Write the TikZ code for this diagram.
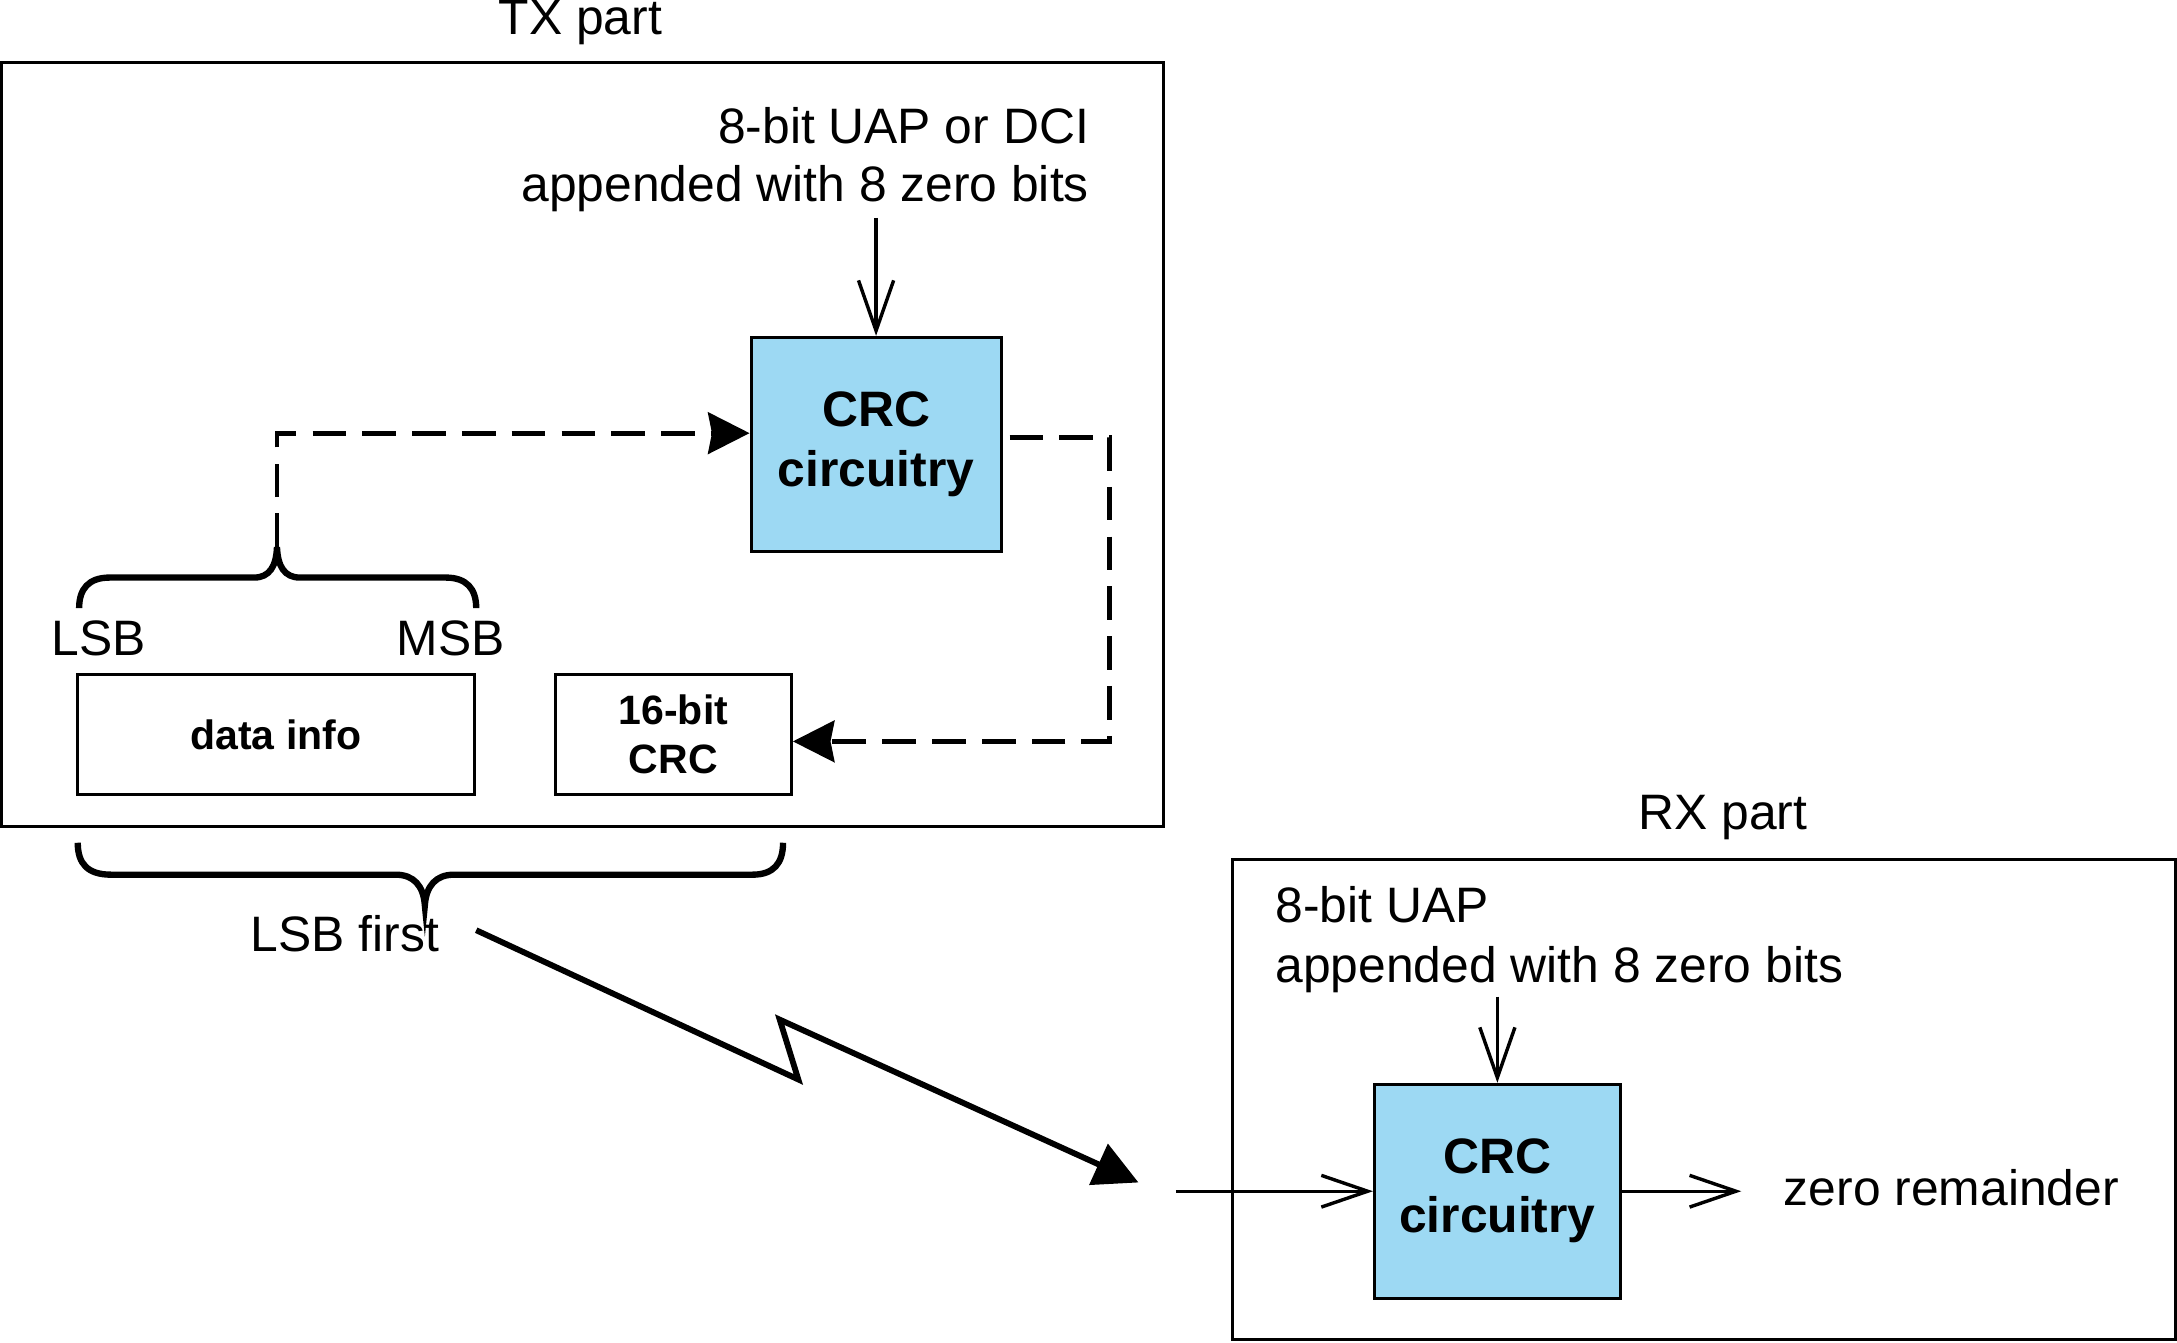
\documentclass[tikz,border=0pt]{standalone}
\usepackage{fontspec}
\setmainfont{Liberation Sans}
\usetikzlibrary{arrows.meta}
\definecolor{crcblue}{RGB}{157,217,243}
\begin{document}
\begin{tikzpicture}[x=0.01cm,y=-0.01cm,
  frame/.style={draw, line width=0.6pt, inner sep=0pt},
  crcbox/.style={draw, fill=crcblue, line width=0.6pt, inner sep=0pt, minimum width=1.8cm, minimum height=1.54cm, align=center, font=\fontsize{10.2}{12.1}\selectfont\bfseries},
  smallbox/.style={draw, line width=0.6pt, inner sep=0pt, minimum height=0.86cm, align=center, font=\fontsize{8.4}{10}\selectfont\bfseries},
  lbl/.style={inner sep=0pt, font=\fontsize{10.2}{12.2}\selectfont},
  thinarrow/.style={line width=0.7pt, -{Straight Barb[length=10.3pt,width=7.2pt]}},
  rxarrow/.style={line width=0.7pt, -{Straight Barb[length=9.5pt,width=6.5pt]}},
  dashline/.style={line width=1pt, dash pattern=on 6.9pt off 3.3pt, -{Stealth[length=8.5pt,width=8.5pt,inset=0.8pt]}},
  bracestyle/.style={line width=1.3pt},
  bolt/.style={line width=1.2pt, line join=miter, -{Triangle[length=9pt,width=9pt]}}
]
\useasboundingbox (0,0) rectangle (1568,967);

% ---------- TX part ----------
\node[frame, minimum width=8.37cm, minimum height=5.5cm] (tx) at (419.5,320) {};
\node[lbl, anchor=base] (txlabel) at (418,25) {TX part};
\node[lbl, anchor=base east] (txin1) at (785,103.5) {8-bit UAP or DCI};
\node[lbl, anchor=base east] (txin2) at (785,144.8) {appended with 8 zero bits};
\node[crcbox] (crctx) at (631,320) {CRC\\circuitry};
\node[lbl, anchor=base] (lsb) at (71,471.8) {LSB};
\node[lbl, anchor=base] (msb) at (324.5,471.8) {MSB};
\node[smallbox, minimum width=2.855cm] (data) at (198.7,529) {data info};
\node[smallbox, minimum width=1.7cm] (crc16) at (485,529) {16-bit\\CRC};

\draw[thinarrow, shorten <=0.04cm] (crctx.north |- txin2.south) -- (crctx.north);

% upper brace
\draw[bracestyle] (57,438) .. controls (57,424) and (64,416) .. (79,416) -- (183,416)
  .. controls (194,416) and (199,408) .. (199.5,394)
  .. controls (200,408) and (205,416) .. (216,416) -- (321,416)
  .. controls (336,416) and (343,424) .. (343,438);
\coordinate (btip) at (199.5,394);

\draw[dashline] (btip) |- ([yshift=0.08cm]crctx.west);
\draw[dashline] ([xshift=0.05cm,yshift=0.05cm]crctx.east) -- ++(72,0) |- ([yshift=-0.05cm]crc16.east);

% lower brace
\draw[bracestyle] (56,607) .. controls (56,622) and (63,630) .. (80,630) -- (285,630)
  .. controls (298,630) and (305,638) .. (306,652)
  .. controls (307,638) and (314,630) .. (327,630) -- (542,630)
  .. controls (557,630) and (564,622) .. (564,607);
\node[lbl, anchor=base] (lsbfirst) at (248.5,685) {LSB first};

% lightning link
\coordinate (b0) at (343,670);
\coordinate (b1) at (575,777.5);
\coordinate (b2) at (561.6,734.4);
\coordinate (b3) at (820,851.7);
\draw[bolt] (b0) -- (b1) -- (b2) -- (b3);

% ---------- RX part ----------
\node[frame, minimum width=6.785cm, minimum height=3.46cm] (rx) at (1227.3,792) {};
\node[lbl, anchor=base] (rxlabel) at (1241,597.8) {RX part};
\node[lbl, anchor=base west] (rxin1) at (918,664.2) {8-bit UAP};
\node[lbl, anchor=base west] (rxin2) at (918,707.6) {appended with 8 zero bits};
\node[crcbox, minimum width=1.77cm] (crcrx) at (1078.5,858) {CRC\\circuitry};
\node[lbl, anchor=base] (zr) at (1405.5,868) {zero remainder};

\draw[thinarrow, shorten <=0.02cm] (crcrx.north |- rxin2.south) -- (crcrx.north);
\coordinate (rxin) at (847,858);
\draw[rxarrow] (rxin) -- (crcrx.west);
\draw[rxarrow, shorten >=0.3cm] (crcrx.east) -- (crcrx.east -| zr.west);
\end{tikzpicture}
\end{document}
